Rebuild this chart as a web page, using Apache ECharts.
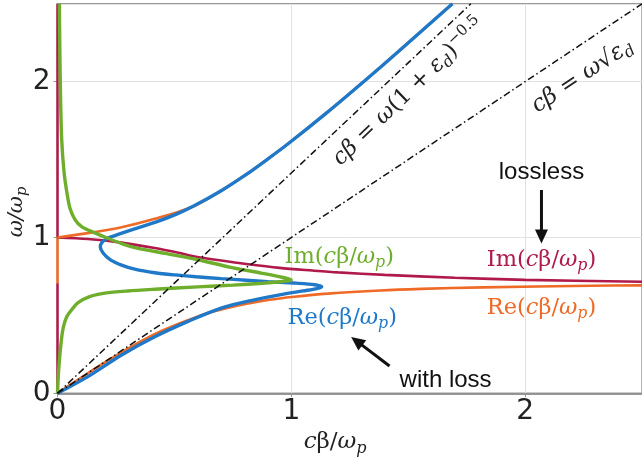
<!DOCTYPE html>
<html>
<head>
<meta charset="utf-8">
<script src="https://cdn.jsdelivr.net/npm/echarts@6/dist/echarts.min.js"></script>
<style>html,body{margin:0;padding:0;background:#fff}#c{width:642px;height:460px}</style>
</head>
<body>
<div id="c"></div>
<script>
// ---- data ----
const xTicks = [0, 1, 2];
const yTicks = [0, 1, 2];

// lossy Re(cβ/ωp) (blue)
const reLossy = [[0,0],[0.13,0.107],[0.274,0.246],[0.416,0.363],[0.556,0.46],[0.70,0.547],[0.842,0.6],[0.95,0.632],[1.05,0.657],[1.11,0.672],[1.13,0.684],[1.10,0.697],[1.02,0.707],[0.9,0.717],[0.807,0.726],[0.7,0.736],[0.594,0.748],[0.5,0.76],[0.416,0.774],[0.33,0.797],[0.274,0.823],[0.225,0.858],[0.195,0.9],[0.183,0.94],[0.192,0.972],[0.215,0.995],[0.26,1.02],[0.33,1.055],[0.423,1.1],[0.509,1.15],[0.5805,1.2],[0.70,1.3],[0.803,1.4],[0.896,1.5],[0.985,1.6],[1.151,1.8],[1.309,2.0],[1.463,2.2],[1.689,2.5]];

// lossy Im(cβ/ωp) (green)
const imLossy = [[0.008,2.5],[0.01,2.2],[0.013,1.9],[0.018,1.625],[0.028,1.42],[0.04,1.29],[0.053,1.19],[0.075,1.115],[0.103,1.07],[0.16,1.03],[0.215,0.995],[0.28,0.958],[0.34,0.932],[0.46,0.898],[0.587,0.862],[0.736,0.81],[0.877,0.77],[0.96,0.745],[1.0,0.728],[0.95,0.716],[0.877,0.706],[0.75,0.694],[0.6,0.683],[0.416,0.668],[0.3,0.657],[0.203,0.643],[0.14,0.622],[0.088,0.582],[0.06,0.535],[0.039,0.49],[0.025,0.425],[0.018,0.36],[0.011,0.26],[0.007,0.19],[0.003,0.1],[0,0]];

// lossless Im(cβ/ωp) (crimson)
const imLossless = [[0,1],[0.13,0.99],[0.274,0.967],[0.416,0.932],[0.522,0.9],[0.587,0.878],[0.7,0.852],[0.807,0.83],[0.95,0.805],[1.09,0.788],[1.2,0.776],[1.4,0.76],[1.7,0.742],[2.0,0.728],[2.5,0.716]];
const imLosslessAxisLow = [[0,0],[0,0.707]];
const imLosslessAxisHigh = [[0,1],[0,2.5]];

// lossless Re(cβ/ωp) (orange)
const reLosslessLow = [[0,0],[0.1005,0.1],[0.2043,0.2],[0.316,0.3],[0.4446,0.4],[0.612,0.5],[0.731,0.55],[0.907,0.6],[1.012,0.62],[1.157,0.64],[1.38,0.66],[1.556,0.67],[1.818,0.68],[2.284,0.69],[2.5,0.693]];
const reLosslessHigh = [[0,1],[0.13,1.028],[0.274,1.066],[0.416,1.12],[0.5805,1.2],[0.70,1.3],[0.803,1.4],[0.896,1.5],[0.985,1.6],[1.151,1.8],[1.309,2.0],[1.463,2.2],[1.689,2.5]];
const reLosslessAxis = [[0,0.707],[0,1]];

// light lines
const lightLine1 = [[0,0],[1.768,2.5]];   // cβ = ω(1+εd)^-0.5
const lightLine2 = [[0,0],[2.5,2.5]];     // cβ = ω√εd

// colours
const BLUE = '#1f78c8', GREEN = '#6fae2c', CRIMSON = '#b01a4b', ORANGE = '#ee6a26';

const chart = echarts.init(document.getElementById('c'), null, {renderer: 'canvas'});

function ser(data, color, width, smooth) {
  return {type: 'line', data: data, showSymbol: false, symbol: 'none', smooth: smooth || 0,
    lineStyle: {color: color, width: width}, animation: false};
}
function dashSer(data) {
  return {type: 'line', data: data, showSymbol: false, symbol: 'none',
    lineStyle: {color: '#111', width: 1.5, type: [7, 3, 1.5, 3]}, animation: false};
}

const option = {
  animation: false,
  grid: {left: 57.5, top: 3.8, width: 586, height: 389.5, show: true, borderColor: '#999', borderWidth: 1.5},
  xAxis: {type: 'value', min: 0, max: 2.5, interval: 1,
    axisLine: {show: true, lineStyle: {color: '#777', width: 1.5}},
    axisTick: {show: true, length: 4, lineStyle: {color: '#999'}},
    splitLine: {show: true, lineStyle: {color: '#e2e2e2', width: 1}},
    axisLabel: {showMaxLabel: false, margin: 4, fontFamily: 'DejaVu Sans', fontSize: 28, color: '#222',
      formatter: v => xTicks.indexOf(v) >= 0 ? String(v) : ''}},
  yAxis: {type: 'value', min: 0, max: 2.5, interval: 1,
    axisLine: {show: true, lineStyle: {color: '#999', width: 1}},
    axisTick: {show: true, length: 4, lineStyle: {color: '#999'}},
    splitLine: {show: true, lineStyle: {color: '#e2e2e2', width: 1}},
    axisLabel: {showMaxLabel: false, margin: 7, fontFamily: 'DejaVu Sans', fontSize: 28, color: '#222',
      formatter: v => yTicks.indexOf(v) >= 0 ? String(v) : ''}},
  series: [
    ser(imLosslessAxisLow, CRIMSON, 2.5),
    ser(imLosslessAxisHigh, CRIMSON, 2.5),
    ser(reLosslessAxis, ORANGE, 2.5),
    ser(imLossless, CRIMSON, 2.6, 0.3),
    ser(reLosslessLow, ORANGE, 2.6, 0.3),
    ser(reLosslessHigh, ORANGE, 2.6, 0.3),
    ser(reLossy, BLUE, 3.4, 0.3),
    ser(imLossy, GREEN, 3.4, 0.3),
    dashSer(lightLine1),
    dashSer(lightLine2)
  ]
};
chart.setOption(option);

// ---- annotations (in data coordinates) ----
const P = p => chart.convertToPixel({gridIndex: 0}, p);
function mathRich(color, size) {
  return {
    u: {fontFamily: 'DejaVu Serif', fontSize: size, fill: color, lineHeight: size * 1.25},
    i: {fontFamily: 'DejaVu Serif', fontStyle: 'italic', fontSize: size, fill: color, lineHeight: size * 1.25},
    sub: {fontFamily: 'DejaVu Serif', fontStyle: 'italic', fontSize: size * 0.7, fill: color, lineHeight: size * 0.75, verticalAlign: 'bottom'},
    sup: {fontFamily: 'DejaVu Serif', fontSize: size * 0.68, fill: color, lineHeight: size * 0.7, verticalAlign: 'top'}
  };
}
function mathText(pos, text, color, size, rot) {
  const p = P(pos);
  return {type: 'text', x: p[0], y: p[1], rotation: rot || 0, z: 100,
    style: {text: text, fill: color, align: 'center', verticalAlign: 'middle', rich: mathRich(color, size)}};
}
function plainText(pos, text, size) {
  const p = P(pos);
  return {type: 'text', x: p[0], y: p[1], z: 100,
    style: {text: text, align: 'center', verticalAlign: 'middle', fontFamily: 'Liberation Sans', fontSize: size, fill: '#111'}};
}
function arrow(from, to) {
  const a = P(from), b = P(to);
  const dx = b[0] - a[0], dy = b[1] - a[1], L = Math.sqrt(dx * dx + dy * dy);
  const ux = dx / L, uy = dy / L, hl = 14, hw = 6.5;
  const bx = b[0] - ux * hl, by = b[1] - uy * hl;
  return [
    {type: 'line', z: 100, shape: {x1: a[0], y1: a[1], x2: bx + ux * 2, y2: by + uy * 2}, style: {stroke: '#111', lineWidth: 3}},
    {type: 'polygon', z: 100, shape: {points: [[b[0], b[1]], [bx - uy * hw, by + ux * hw], [bx + uy * hw, by - ux * hw]]}, style: {fill: '#111'}}
  ];
}

const imLabel = '{u|Im(}{i|c}{u|β/}{i|ω}{sub|p}{u|)}';
const reLabel = '{u|Re(}{i|c}{u|β/}{i|ω}{sub|p}{u|)}';
const gridRect = chart.getModel().getComponent('grid').coordinateSystem.getRect();

chart.setOption({graphic: [
  mathText([1.205, 0.875], imLabel, GREEN, 22.5),
  mathText([1.218, 0.484], reLabel, BLUE, 22.5),
  mathText([2.07, 0.855], imLabel, CRIMSON, 22.5),
  mathText([2.07, 0.548], reLabel, ORANGE, 22.5),
  mathText([1.503, 1.934], '{i|cβ = ω}{u|(1 + }{i|ε}{sub|d}{u|)}{sup|−0.5}', '#222', 22.5, 44 * Math.PI / 180),
  mathText([2.245, 2.037], '{i|cβ = ω}{u|√}{i|ε}{sub|d}', '#222', 23, 33.6 * Math.PI / 180),
  plainText([2.07, 1.42], 'lossless', 24),
  plainText([1.66, 0.086], 'with loss', 24),
  ...arrow([2.07, 1.305], [2.07, 0.962]),
  ...arrow([1.42, 0.175], [1.256, 0.362]),
  {type: 'text', x: gridRect.x + gridRect.width * 0.475, y: 442, z: 100,
    style: {text: '{i|c}{u|β/}{i|ω}{sub|p}', fill: '#222', align: 'center', verticalAlign: 'middle', rich: mathRich('#222', 23)}},
  {type: 'text', x: 17, y: 212, rotation: Math.PI / 2, z: 100,
    style: {text: '{i|ω/ω}{sub|p}', fill: '#222', align: 'center', verticalAlign: 'middle', rich: mathRich('#222', 21)}}
]});
</script>
</body>
</html>
